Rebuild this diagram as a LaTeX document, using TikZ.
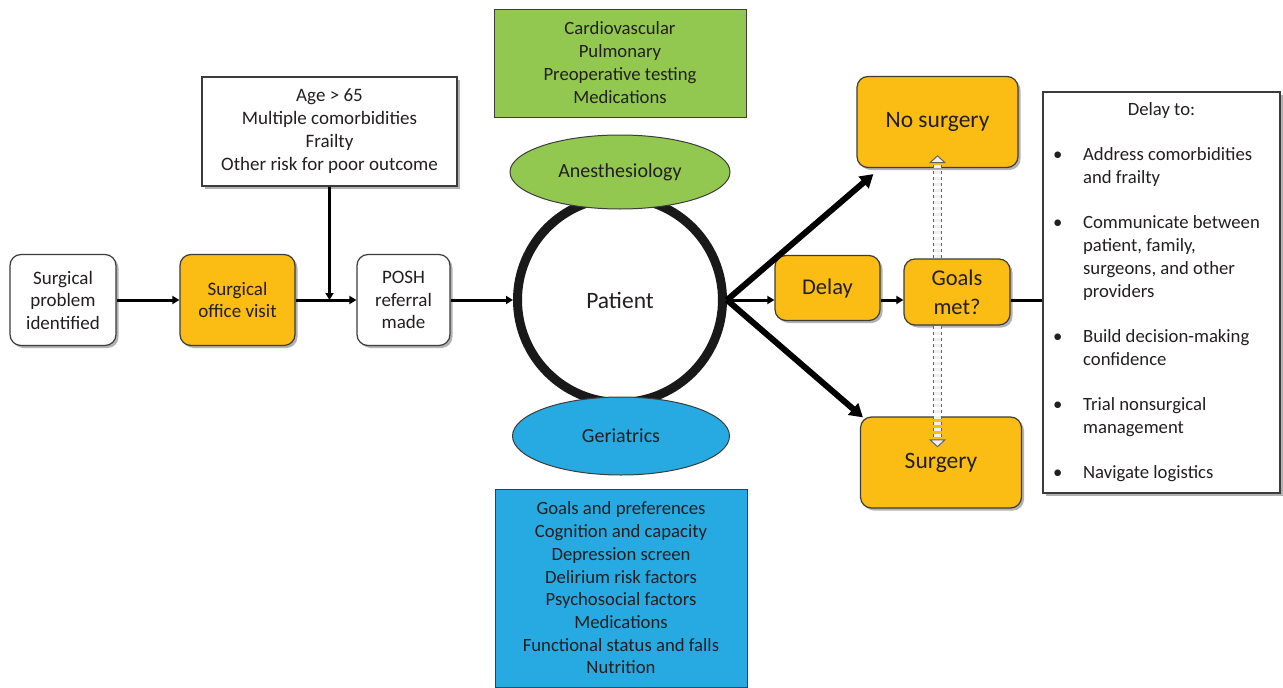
\documentclass[tikz,border=0pt]{standalone}
\usepackage{fontspec}
\setmainfont{Carlito}
\usetikzlibrary{arrows.meta,shadows,shapes.geometric,calc}

\definecolor{ink}{HTML}{231F20}
\definecolor{edge}{HTML}{3C3C3C}
\definecolor{gold}{HTML}{FBBC14}
\definecolor{leaf}{HTML}{92C850}
\definecolor{sky}{HTML}{27AAE1}

\newcommand{\fs}[2]{\fontsize{#1}{#2}\selectfont}

\begin{document}
\begin{tikzpicture}[
    x=1pt, y=-1pt,
    >={Triangle[length=7pt,width=8pt]},
    every node/.style={text=ink, align=center, inner sep=0pt},
    boxshadow/.style={drop shadow={shadow xshift=2.5pt, shadow yshift=-2.5pt, fill=black, opacity=0.3}},
    plainbox/.style={draw=edge, line width=1.2pt, fill=white, rounded corners=11pt, boxshadow},
    goldbox/.style={plainbox, fill=gold},
    listbox/.style={draw=edge, line width=1.2pt, fill=white, boxshadow},
    flowline/.style={line width=3pt, ->},
    bigflow/.style={line width=6pt, -{Triangle[length=13pt,width=15pt]}},
    goalflow/.style={draw=edge!80, dashed, line width=1pt, double=gray!12,
        double distance=7pt,
        -{Triangle[length=8pt, width=17pt, fill=gray!12, line width=1pt]}}
]
\useasboundingbox (0,0) rectangle (1283,688);

% ============================================================
% Obere Zeile: Weg zum Patienten
% ============================================================
\node[plainbox, minimum width=106pt, minimum height=91pt, font=\fs{19}{22.5}]
    (prob) at (63,300) {Surgical\\problem\\identified};
\node[goldbox, minimum width=115pt, minimum height=91pt, font=\fs{19}{22.5}]
    (office) at (237.5,300) {Surgical\\office visit};
\node[plainbox, minimum width=93pt, minimum height=91pt, font=\fs{19}{22.5}]
    (posh) at (403.5,300) {POSH\\referral\\made};

\node[listbox, minimum width=255pt, minimum height=109pt, font=\fs{19}{23}]
    (risk) at (329.5,131.5)
    {Age > 65\\Multiple comorbidities\\Frailty\\Other risk for poor outcome};

% ============================================================
% Patient mit Anesthesiology / Geriatrics
% ============================================================
\node[draw=black!90, line width=9pt, circle, minimum size=205pt, fill=white,
      font=\fs{23.5}{28}] (patient) at (620,300) {Patient};

\node[ellipse, draw=edge, line width=1pt, fill=leaf, minimum width=220pt,
      minimum height=74pt, font=\fs{20}{23}] (anes) at (620,172) {Anesthesiology};
\node[ellipse, draw=edge, line width=1pt, fill=sky, minimum width=217pt,
      minimum height=78pt, font=\fs{20}{23}] (geri) at (621,436) {Geriatrics};

\node[draw=edge, line width=1pt, fill=leaf, minimum width=252pt,
      minimum height=108pt, font=\fs{18.7}{23}] (anesbox) at (620,63)
    {Cardiovascular\\Pulmonary\\Preoperative testing\\Medications};
\node[draw=edge, line width=1pt, fill=sky, minimum width=252pt,
      minimum height=198pt, font=\fs{18.7}{22.7}] (geribox) at (621,588)
    {Goals and preferences\\Cognition and capacity\\Depression screen\\
     Delirium risk factors\\Psychosocial factors\\Medications\\
     Functional status and falls\\Nutrition};

% ============================================================
% Entscheidung
% ============================================================
\node[goldbox, minimum width=105pt, minimum height=65pt, font=\fs{22.5}{27}]
    (delay) at (827.5,288) {Delay};
\node[goldbox, minimum width=106pt, minimum height=66pt, font=\fs{22.5}{29}]
    (goals) at (957,292) {Goals\\met?};
\node[goldbox, minimum width=161pt, minimum height=91pt, font=\fs{23.5}{28}]
    (nosurg) at (937.5,122) {No surgery};
\node[goldbox, minimum width=161pt, minimum height=91pt, font=\fs{23.5}{28}]
    (surg) at (941,462.5) {Surgery};

\node[listbox, minimum width=237pt, minimum height=401pt, font=\fs{18.7}{23}]
    (delayto) at (1161.5,292.5)
{\begin{tabular}{@{}p{30pt}@{}l@{}}
\multicolumn{2}{c}{\hspace*{10pt}Delay to:}\\[22pt]
\textbullet & Address comorbidities\\
            & and frailty\\[22pt]
\textbullet & Communicate between\\
            & patient, family,\\
            & surgeons, and other\\
            & providers\\[22pt]
\textbullet & Build decision-making\\
            & confidence\\[22pt]
\textbullet & Trial nonsurgical\\
            & management\\[22pt]
\textbullet & Navigate logistics
\end{tabular}\hspace*{10pt}};

% ============================================================
% Verbindungen
% ============================================================
\draw[flowline] (prob.east) -- (office.west);
\draw[flowline] (office.east) -- (posh.west);
\draw[line width=3pt, ->] (risk.south) -- (risk.south |- office.east);
\draw[flowline] (posh.east) -- (patient.west);

\draw[bigflow] (patient.east) -- ($(nosurg.south west)+(17,6)$);
\draw[bigflow] (patient.east) -- ($(surg.north west)+(3,1)$);
\draw[flowline] (patient.east) -- (delay.west |- patient.east);
\draw[flowline] (delay.east |- patient.east) -- (goals.west |- patient.east);
\draw[line width=3pt] (goals.east |- patient.east) -- (delayto.west |- patient.east);

% gestrichelte Hohlpfeile
\draw[goalflow, shorten >=-13pt] (nosurg.south |- goals.north) -- (nosurg.south);
\draw[goalflow, shorten >=-31pt] (nosurg.south |- goals.south) -- (nosurg.south |- surg.north);

\end{tikzpicture}
\end{document}
